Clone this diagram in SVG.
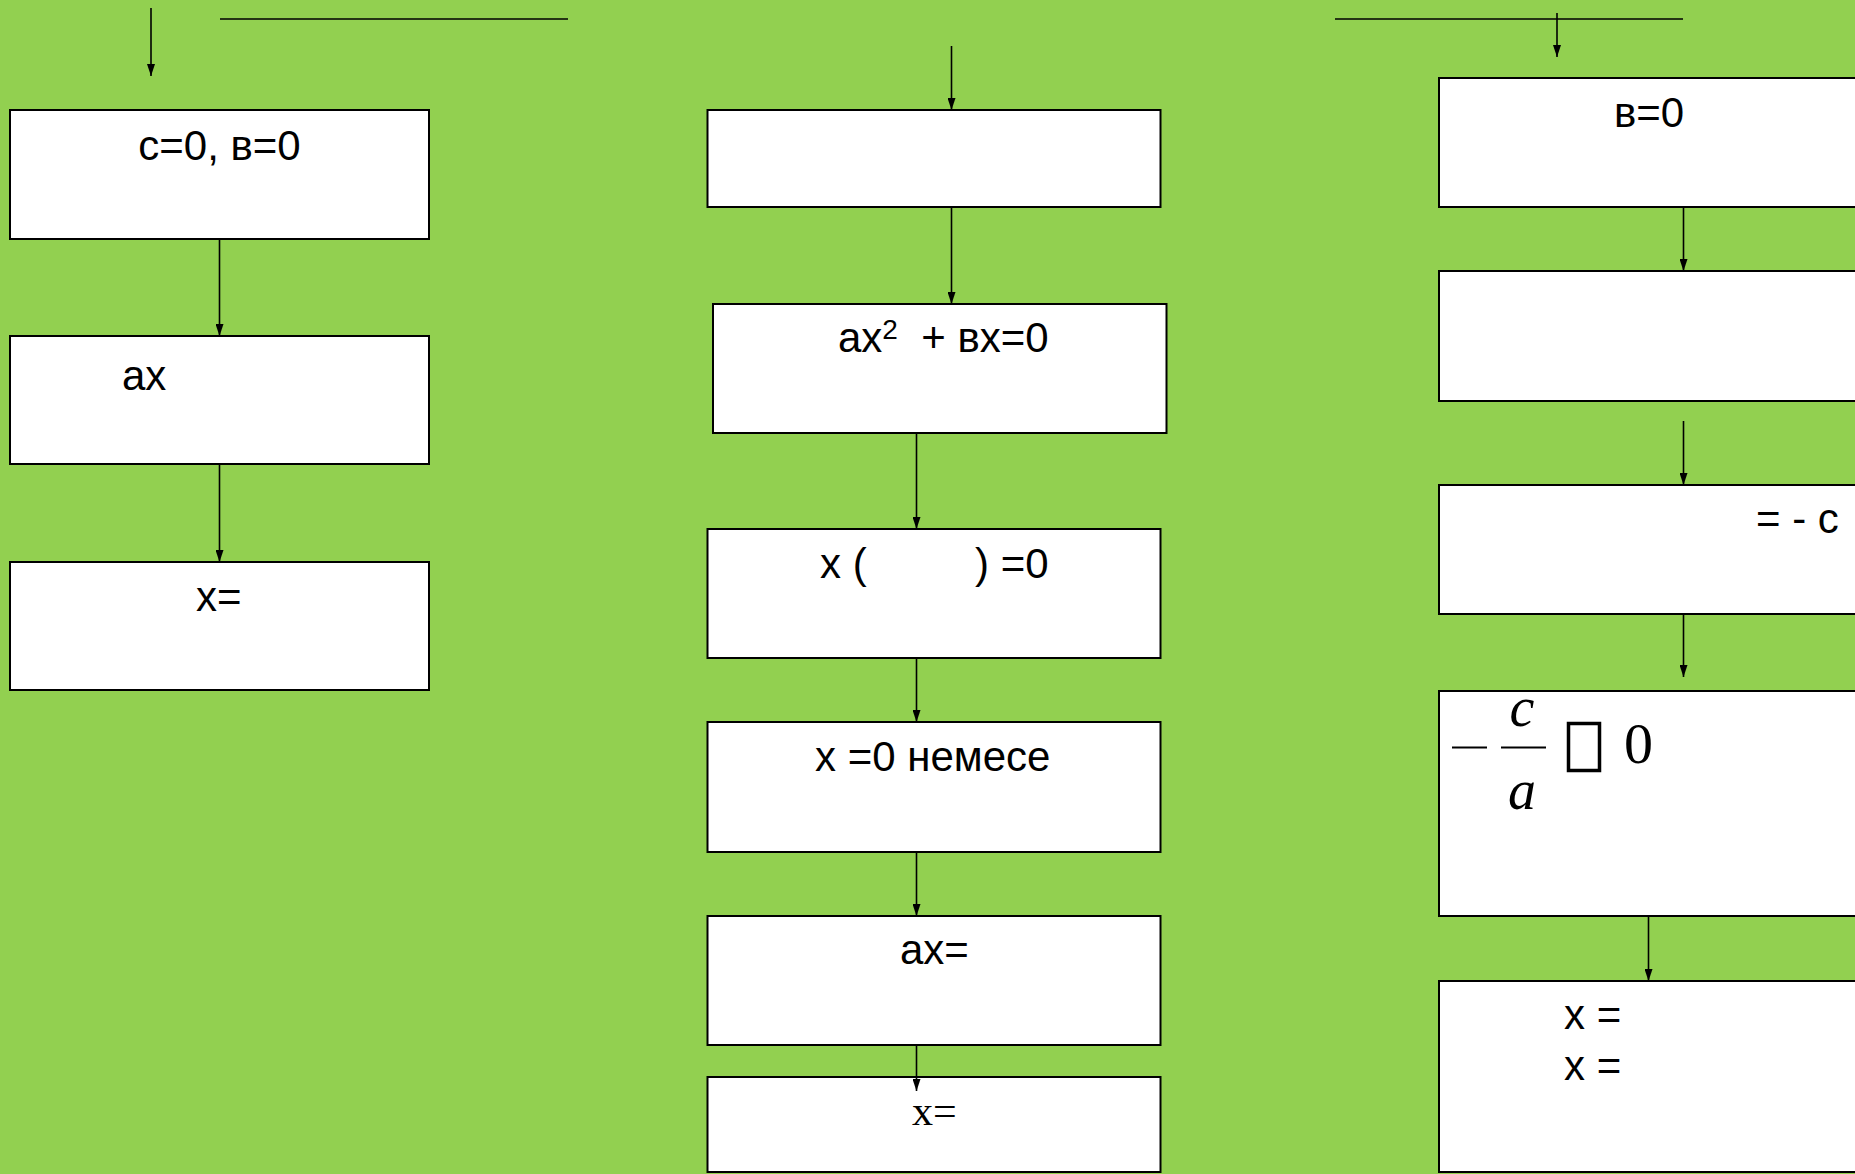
<svg xmlns="http://www.w3.org/2000/svg" width="1855" height="1174" viewBox="0 0 1855 1174">
<defs>
<marker id="ah" viewBox="0 0 12 8" refX="12" refY="4" markerWidth="12" markerHeight="8" markerUnits="userSpaceOnUse" orient="auto">
<path d="M0,0 L12,4 L0,8 z" fill="#000"/>
</marker>
<style>
.box{fill:#fff;stroke:#000;stroke-width:2}
.t{font-family:"Liberation Sans",Arial,sans-serif;font-size:42px;fill:#000}
.s{font-family:"Liberation Serif","Times New Roman",serif;fill:#000}
.c{stroke:#000;stroke-width:1.6;fill:none}
.a{marker-end:url(#ah)}
</style>
</defs>
<rect width="1855" height="1174" fill="#92D050"/>

<g id="a1"><rect class="box" x="10" y="110" width="419" height="129"/>
<text class="t" x="219.5" y="160" text-anchor="middle">с=0, в=0</text></g>
<g id="a2"><rect class="box" x="10" y="336" width="419" height="128"/>
<text class="t" x="122" y="390" font-size="44">ax</text></g>
<g id="a3"><rect class="box" x="10" y="562" width="419" height="128"/>
<text class="t" x="196" y="611">x=</text></g>

<g id="b1"><rect class="box" x="707.5" y="110" width="453" height="97"/></g>
<g id="b2"><rect class="box" x="713" y="304" width="453.5" height="129"/>
<text class="t" x="838" y="352">ax<tspan font-size="28" dy="-13">2</tspan><tspan dy="13" xml:space="preserve">  + вx=0</tspan></text></g>
<g id="b3"><rect class="box" x="707.5" y="529" width="453" height="129"/>
<text class="t" y="578"><tspan x="820">x (</tspan><tspan x="975">) =0</tspan></text></g>
<g id="b4"><rect class="box" x="707.5" y="722" width="453" height="130"/>
<text class="t" x="815" y="771">x =0 немесе</text></g>
<g id="b5"><rect class="box" x="707.5" y="916" width="453" height="129"/>
<text class="t" x="900" y="964">ax=</text></g>
<g id="b6"><rect class="box" x="707.5" y="1077" width="453" height="95"/>
<text class="s" x="912" y="1125" font-size="42">x=</text></g>

<g id="c1"><rect class="box" x="1439" y="78" width="450" height="129"/>
<text class="t" x="1614" y="127">в=0</text></g>
<g id="c2"><rect class="box" x="1439" y="271" width="450" height="130"/></g>
<g id="c3"><rect class="box" x="1439" y="485" width="450" height="129"/>
<text class="t" x="1756" y="533" xml:space="preserve">= - c</text></g>
<g id="c4"><rect class="box" x="1439" y="691" width="450" height="225"/>
<line x1="1452" y1="747.5" x2="1487" y2="747.5" stroke="#000" stroke-width="2.2"/>
<line x1="1501" y1="747.5" x2="1546" y2="747.5" stroke="#000" stroke-width="2"/>
<text class="s" x="1522" y="726" font-size="56" font-style="italic" text-anchor="middle">c</text>
<text class="s" x="1522" y="809" font-size="56" font-style="italic" text-anchor="middle">a</text>
<rect x="1568.5" y="723.5" width="31" height="47" fill="none" stroke="#000" stroke-width="3.5"/>
<text class="s" x="1638.5" y="763" font-size="58" text-anchor="middle">0</text></g>
<g id="c5"><rect class="box" x="1439" y="981" width="450" height="191"/>
<text class="t" x="1564" y="1029" xml:space="preserve">x =</text>
<text class="t" x="1564" y="1080" xml:space="preserve">x =</text></g>

<g id="connectors">
<line class="c" x1="220" y1="19" x2="568" y2="19"/>
<line class="c" x1="1335" y1="19" x2="1683" y2="19"/>
<line class="c a" x1="151" y1="8" x2="151" y2="76"/>
<line class="c a" x1="1557" y1="13" x2="1557" y2="57"/>
<line class="c a" x1="219.5" y1="239" x2="219.5" y2="336"/>
<line class="c a" x1="219.5" y1="464" x2="219.5" y2="562"/>
<line class="c a" x1="951.5" y1="46" x2="951.5" y2="110"/>
<line class="c a" x1="951.5" y1="207" x2="951.5" y2="304"/>
<line class="c a" x1="916.5" y1="433" x2="916.5" y2="529"/>
<line class="c a" x1="916.5" y1="658" x2="916.5" y2="722"/>
<line class="c a" x1="916.5" y1="852" x2="916.5" y2="916"/>
<line class="c a" x1="916.5" y1="1045" x2="916.5" y2="1091"/>
<line class="c a" x1="1683.5" y1="207" x2="1683.5" y2="271"/>
<line class="c a" x1="1683.5" y1="421" x2="1683.5" y2="485"/>
<line class="c a" x1="1683.5" y1="614" x2="1683.5" y2="677"/>
<line class="c a" x1="1648.5" y1="916" x2="1648.5" y2="981"/>
</g>
</svg>
